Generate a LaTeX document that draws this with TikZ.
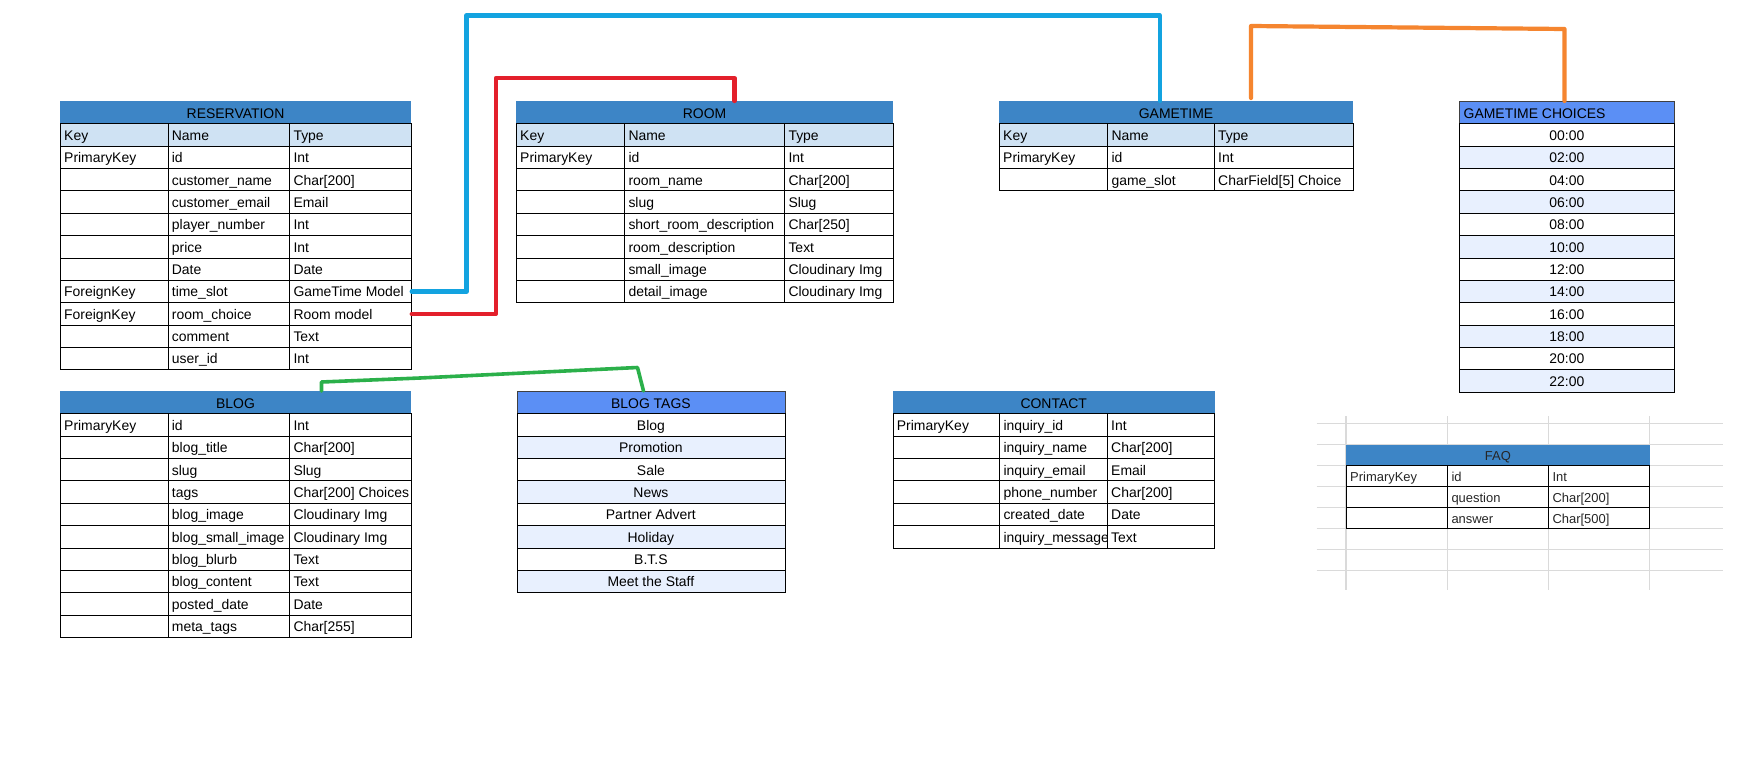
\documentclass[tikz,border=0pt]{standalone}
\usepackage{fontspec}
\setmainfont{Liberation Sans}

\definecolor{hdrblue}{HTML}{3D85C6}
\definecolor{brightblue}{HTML}{5B8FF5}
\definecolor{colhead}{HTML}{CFE2F3}
\definecolor{altrow}{HTML}{E8F0FE}
\definecolor{gridgray}{HTML}{DADADA}
\definecolor{fkblue}{HTML}{13A3E0}
\definecolor{fkred}{HTML}{E3202B}
\definecolor{fkorange}{HTML}{F5852F}
\definecolor{fkgreen}{HTML}{2BB04A}

% row height and baseline offset inside a row
\newcommand\rh{22.36}
\newcommand\rb{17}

% column edges of the table being drawn
\newcommand\setcols[4]{\def\tca{#1}\def\tcb{#2}\def\tcc{#3}\def\tcd{#4}%
  \pgfmathsetmacro\twa{#2-#1}\pgfmathsetmacro\twb{#3-#2}%
  \pgfmathsetmacro\twc{#4-#3}\pgfmathsetmacro\twall{#4-#1}}

% one row of a three-column model table
\newcommand\fieldrow[6]{% #1 name, #2 top, #3 fill, #4 key, #5 field, #6 type
  \node[cellbox, fill=#3, minimum width=\twa bp] (#1-k) at (\tca,#2) {};
  \node[celltext] (#1-kt) at (\tca+4,#2+\rb) {#4};
  \node[cellbox, fill=#3, minimum width=\twb bp] (#1-n) at (\tcb,#2) {};
  \node[celltext] (#1-nt) at (\tcb+4,#2+\rb) {#5};
  \node[cellbox, fill=#3, minimum width=\twc bp] (#1-t) at (\tcc,#2) {};
  \node[celltext] (#1-tt) at (\tcc+4,#2+\rb) {#6};
}

% one row of a single-column list table
\newcommand\listrow[4]{% #1 name, #2 top, #3 fill, #4 text
  \node[cellbox, fill=#3, minimum width=\twall bp] (#1) at (\tca,#2) {};
  \node[ctrtext] (#1-x) at ({(\tca+\tcd)/2},#2+\rb) {#4};
}

% merged title row of a table
\newcommand\titlerow[4]{% #1 name, #2 top, #3 fill, #4 text
  \node[titlebox, fill=#3, minimum width=\twall bp] (#1) at (\tca,#2) {#4};
}

\begin{document}
\begin{tikzpicture}[x=1bp, y=-1bp,
  font=\fontsize{14}{16}\selectfont,
  cellbox/.style={rectangle, draw=black, line width=1bp, inner sep=0pt,
    minimum height=\rh bp, anchor=north west},
  titlebox/.style={rectangle, inner sep=0pt, minimum height=\rh bp,
    anchor=north west, text height=\rb bp-5.36bp, text depth=0pt},
  celltext/.style={anchor=base west, inner sep=0pt},
  ctrtext/.style={anchor=base, inner sep=0pt},
  link/.style={line width=4.2bp, line cap=round, line join=round},
  gridline/.style={draw=gridgray, line width=1.2bp},
]
\useasboundingbox (0,0) rectangle (1745,774);
\fill[white] (0,0) rectangle (1745,774);

% ---------------- RESERVATION ----------------
\setcols{60}{167.7}{289.3}{410.7}
\titlerow{res}{101}{hdrblue}{RESERVATION}
\foreach \k/\n/\t [count=\i from 0] in {Key/Name/Type, PrimaryKey/id/Int,
    {}/customer\_name/Char[200], {}/customer\_email/Email,
    {}/player\_number/Int, {}/price/Int, {}/Date/Date,
    ForeignKey/time\_slot/GameTime Model, ForeignKey/room\_choice/Room model,
    {}/comment/Text, {}/user\_id/Int} {
  \pgfmathsetmacro\yt{101+(\i+1)*\rh}
  \ifnum\i=0 \def\rf{colhead}\else\def\rf{white}\fi
  \fieldrow{res-\i}{\yt}{\rf}{\k}{\n}{\t}
}

% ---------------- ROOM ----------------
\setcols{516}{624.3}{784.3}{892.7}
\titlerow{room}{101}{hdrblue}{ROOM}
\foreach \k/\n/\t [count=\i from 0] in {Key/Name/Type, PrimaryKey/id/Int,
    {}/room\_name/Char[200], {}/slug/Slug,
    {}/short\_room\_description/Char[250], {}/room\_description/Text,
    {}/small\_image/Cloudinary Img, {}/detail\_image/Cloudinary Img} {
  \pgfmathsetmacro\yt{101+(\i+1)*\rh}
  \ifnum\i=0 \def\rf{colhead}\else\def\rf{white}\fi
  \fieldrow{room-\i}{\yt}{\rf}{\k}{\n}{\t}
}

% ---------------- GAMETIME ----------------
\setcols{999}{1107.3}{1214}{1352.7}
\titlerow{gt}{101}{hdrblue}{GAMETIME}
\foreach \k/\n/\t [count=\i from 0] in {Key/Name/Type, PrimaryKey/id/Int,
    {}/game\_slot/CharField[5] Choice} {
  \pgfmathsetmacro\yt{101+(\i+1)*\rh}
  \ifnum\i=0 \def\rf{colhead}\else\def\rf{white}\fi
  \fieldrow{gt-\i}{\yt}{\rf}{\k}{\n}{\t}
}

% ---------------- GAMETIME CHOICES ----------------
\setcols{1459.3}{1459.3}{1459.3}{1674.3}
\node[cellbox, draw=black!75, fill=brightblue, minimum width=\twall bp] (gtc) at (1459.3,101) {};
\node[celltext] (gtc-x) at (1463.5,101+\rb) {GAMETIME CHOICES};
\foreach \c [count=\i from 0] in {00:00,02:00,04:00,06:00,08:00,10:00,
    12:00,14:00,16:00,18:00,20:00,22:00} {
  \pgfmathsetmacro\yt{101+(\i+1)*\rh}
  \ifodd\i \def\rf{altrow}\else\def\rf{white}\fi
  \listrow{gtc-\i}{\yt}{\rf}{\c}
}

% ---------------- BLOG ----------------
\setcols{60}{167.7}{289.3}{410.7}
\titlerow{blog}{391}{hdrblue}{BLOG}
\foreach \k/\n/\t [count=\i from 0] in {PrimaryKey/id/Int,
    {}/blog\_title/Char[200], {}/slug/Slug, {}/tags/Char[200] Choices,
    {}/blog\_image/Cloudinary Img, {}/blog\_small\_image/Cloudinary Img,
    {}/blog\_blurb/Text, {}/blog\_content/Text, {}/posted\_date/Date,
    {}/meta\_tags/Char[255]} {
  \pgfmathsetmacro\yt{391+(\i+1)*\rh}
  \fieldrow{blog-\i}{\yt}{white}{\k}{\n}{\t}
}

% ---------------- BLOG TAGS ----------------
\setcols{516.5}{516.5}{516.5}{785.3}
\node[cellbox, draw=black!75, fill=brightblue, minimum width=\twall bp] (tags) at (516.5,391) {};
\node[ctrtext] (tags-x) at ({(516.5+785.3)/2},391+\rb) {BLOG TAGS};
\foreach \c [count=\i from 0] in {Blog,Promotion,Sale,News,Partner Advert,
    Holiday,B.T.S,Meet the Staff} {
  \pgfmathsetmacro\yt{391+(\i+1)*\rh}
  \ifodd\i \def\rf{altrow}\else\def\rf{white}\fi
  \listrow{tags-\i}{\yt}{\rf}{\c}
}

% ---------------- CONTACT ----------------
\setcols{892.7}{999.3}{1107}{1214.3}
\titlerow{contact}{391}{hdrblue}{CONTACT}
\foreach \k/\n/\t [count=\i from 0] in {PrimaryKey/inquiry\_id/Int,
    {}/inquiry\_name/Char[200], {}/inquiry\_email/Email,
    {}/phone\_number/Char[200], {}/created\_date/Date,
    {}/inquiry\_message/Text} {
  \pgfmathsetmacro\yt{391+(\i+1)*\rh}
  \fieldrow{contact-\i}{\yt}{white}{\k}{\n}{\t}
}

% ---------------- FAQ (on its spreadsheet grid) ----------------
\foreach \gy [count=\j] in {423.3,444.3,465.3,486.3,507.3,528.3,549.3,570.3}
  \draw[gridline] (1316.7,\gy) -- (1723.3,\gy);
\foreach \gx [count=\j] in {1346,1447.3,1548.3,1649.3}
  \draw[gridline] (\gx,416) -- (\gx,590);
\begin{scope}[font=\fontsize{13}{15}\selectfont, text=black!85]
  \renewcommand\rh{21}
  \renewcommand\rb{16}
  \setcols{1346}{1447.3}{1548.3}{1649.3}
  \titlerow{faq}{444.3}{hdrblue}{FAQ}
  \foreach \k/\n/\t [count=\i from 0] in {PrimaryKey/id/Int,
      {}/question/Char[200], {}/answer/Char[500]} {
    \pgfmathsetmacro\yt{444.3+(\i+1)*\rh}
    \fieldrow{faq-\i}{\yt}{white}{\k}{\n}{\t}
  }
\end{scope}

% ---------------- relation connectors ----------------
\coordinate (bA) at (466.5,15.5);
\coordinate (bB) at (1160,15.5);
\draw[link, fkblue] (res-7-t.east) -| (bA) -- (bB) -- (bB |- gt.north);

\coordinate (rA) at (496,78);
\coordinate (rB) at (734.5,78);
\draw[link, fkred] (res-8-t.east) -| (rA) -- (rB) -- (rB |- room.north);

\coordinate (oA) at (1251,26);
\coordinate (oB) at (1564.5,29);
\draw[link, fkorange, shorten <=3pt] (oA |- gt.north) -- (oA) -- (oB) -- (oB |- gtc.north);

\coordinate (gA) at (321.5,382);
\coordinate (gM) at (420,378);
\coordinate (gB) at (637.5,367.5);
\coordinate (gC) at (643.5,389);
\draw[link, fkgreen, line width=3.6bp] (gA |- blog.north) -- (gA) -- (gM) -- (gB) -- (gC |- tags.north);
\end{tikzpicture}
\end{document}
